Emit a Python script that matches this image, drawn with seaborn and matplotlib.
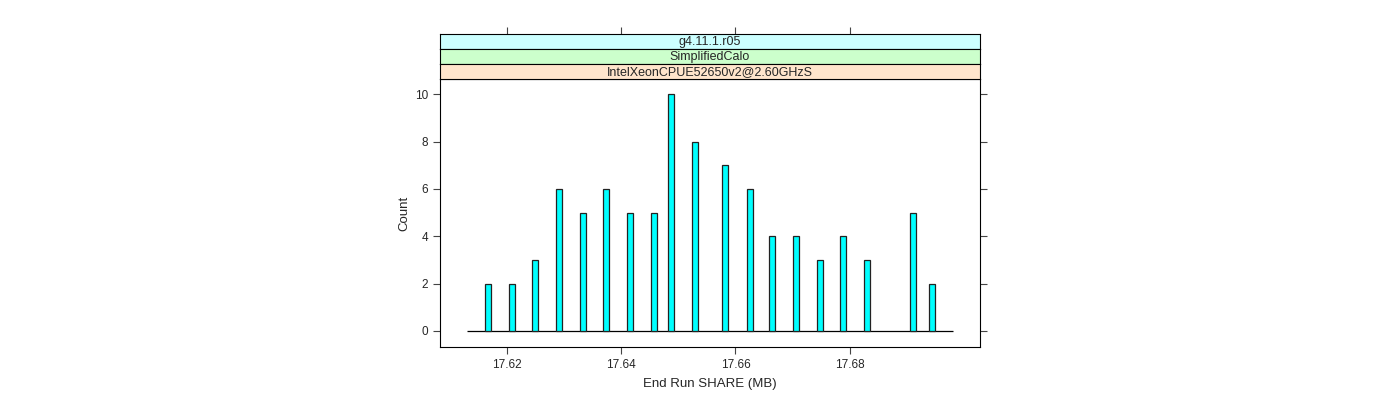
import numpy as np
import pandas as pd
import matplotlib
matplotlib.use("Agg")
import matplotlib.pyplot as plt
import seaborn as sns

# histogram bars (bin centre in MB, count)
share_mb = [17.6167, 17.6209, 17.6250, 17.6291, 17.6333, 17.6374, 17.6415,
            17.6457, 17.6488, 17.6529, 17.6582, 17.6625, 17.6664, 17.6706,
            17.6748, 17.6789, 17.6831, 17.6911, 17.6944]
counts   = [2, 2, 3, 6, 5, 6, 5, 5, 10, 8, 7, 6, 4, 4, 3, 4, 3, 5, 2]

hist_range   = (17.6131, 17.6980)
x_ticks      = [17.62, 17.64, 17.66, 17.68]
y_ticks      = [0, 2, 4, 6, 8, 10]
strip_labels = ["g4.11.1.r05", "SimplifiedCalo", "IntelXeonCPUE52650v2@2.60GHzS"]
strip_colors = ["#CCFFFF", "#CCFFCC", "#FFE5CC"]

XLIM = (17.6083, 17.7028)
YLIM = (-0.68, 10.64)
BAR_WIDTH = 0.00105

sns.set_style("white")
plt.rcParams["font.family"] = ["Liberation Sans", "DejaVu Sans"]

df = pd.DataFrame({"share": share_mb, "count": counts})

fig = plt.figure(figsize=(14, 4), dpi=100)
ax = fig.add_axes([440 / 1400, 1 - 347 / 400, 540 / 1400, 268 / 400])

min_gap = np.min(np.diff(np.unique(share_mb)))
sns.barplot(
    data=df, x="share", y="count", native_scale=True,
    width=BAR_WIDTH / min_gap, color="#00FFFF", saturation=1,
    edgecolor="#222222", linewidth=0.9, errorbar=None, ax=ax,
)
ax.hlines(0, hist_range[0], hist_range[1], color="black", linewidth=0.9, zorder=0)

ax.set_xlim(*XLIM)
ax.set_ylim(*YLIM)
ax.set_xticks(x_ticks)
ax.set_xticklabels([f"{v:.2f}" for v in x_ticks])
ax.set_yticks(y_ticks)
ax.set_xlabel("End Run SHARE (MB)", fontsize=9.5, labelpad=5)
ax.set_ylabel("Count", fontsize=9.5, labelpad=3)
ax.tick_params(axis="both", direction="out", length=5, width=0.8,
               labelsize=8.5, color="#444444", left=True, bottom=True, right=True)
for s in ax.spines.values():
    s.set_color("black")
    s.set_linewidth(0.8)

# lattice-style strips stacked above the panel
strip_h = 15 / 400
for i, (lab, col) in enumerate(zip(strip_labels, strip_colors)):
    bottom = 1 - 79 / 400 + (len(strip_labels) - 1 - i) * strip_h
    sax = fig.add_axes([440 / 1400, bottom, 540 / 1400, strip_h])
    sax.set_facecolor(col)
    sax.set_xlim(*XLIM)
    sax.set_yticks([])
    sax.set_xticks([])
    for s in sax.spines.values():
        s.set_color("black")
        s.set_linewidth(0.8)
    sax.text(0.5, 0.45, lab, transform=sax.transAxes, ha="center", va="center",
             fontsize=9)
    if i == 0:
        sax.set_xticks(x_ticks)
        sax.tick_params(axis="x", top=True, bottom=False, labeltop=False,
                        labelbottom=False, direction="out", length=5, width=0.8,
                        color="#444444")

fig.savefig("out.png", dpi=100)
plt.close(fig)
